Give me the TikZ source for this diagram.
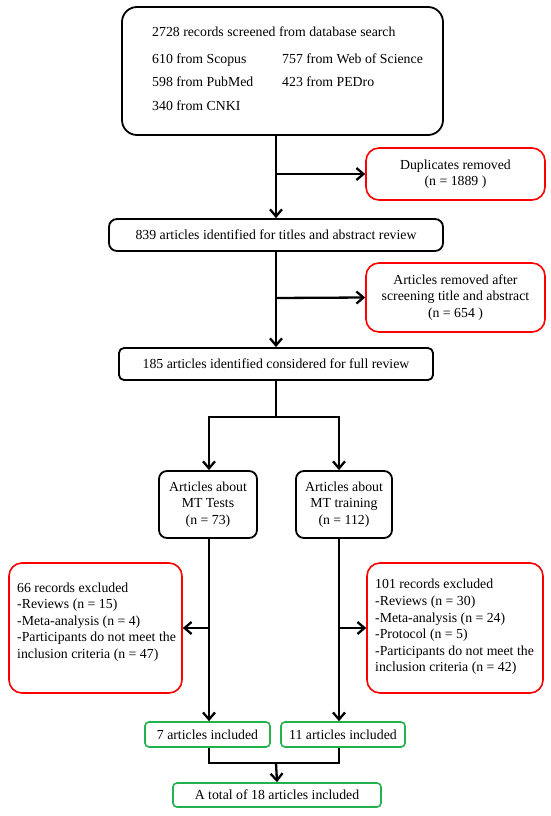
\documentclass[tikz,border=0pt]{standalone}
\usepackage{fontspec}
\setmainfont{Liberation Serif}
\usetikzlibrary{arrows.meta}
\definecolor{redb}{RGB}{255,0,0}
\definecolor{greenb}{RGB}{34,177,76}
\begin{document}
\begin{tikzpicture}[x=1pt,y=-1pt,
 box/.style={draw=black,line width=1.8pt,rounded corners=8pt,inner sep=0pt,align=center,font=\fontsize{13.8}{16.6}\selectfont},
 redbox/.style={draw=redb,line width=1.6pt,rounded corners=13pt,inner sep=0pt,align=center,font=\fontsize{13.8}{16.6}\selectfont},
 grbox/.style={draw=greenb,line width=1.6pt,rounded corners=4pt,inner sep=0pt,align=center,font=\fontsize{13.8}{16.6}\selectfont},
 txt/.style={font=\fontsize{13.8}{16.6}\selectfont,inner sep=0pt,text height=9.5pt,text depth=3pt},
 ltxt/.style={font=\fontsize{13.8}{16.6}\selectfont,inner sep=0pt,align=left},
 conn/.style={line width=2.3pt},
 arr/.style={conn,-{Straight Barb[length=7pt,width=12pt,line width=2.3pt]}}]
\useasboundingbox (0,0) rectangle (550,816);
% top box
\node[box,rounded corners=15pt,minimum width=321pt,minimum height=128pt] (top) at (282.5,71) {};
\node[txt,anchor=west] (t1) at (152,33.5) {2728 records screened from database search};
\node[txt,anchor=west] (t2) at (152,60) {610 from Scopus};
\node[txt,anchor=west] (t3) at (282,60) {757 from Web of Science};
\node[txt,anchor=west] (t4) at (152,83.5) {598 from PubMed};
\node[txt,anchor=west] (t5) at (282,83.5) {423 from PEDro};
\node[txt,anchor=west] (t6) at (152,107) {340 from CNKI};
% red side boxes
\node[redbox,minimum width=179pt,minimum height=52pt] (dup) at (455.5,174) {Duplicates removed\\(n = 1889 )};
\node[redbox,minimum width=179pt,minimum height=69pt] (rem) at (455.5,297.5) {Articles removed after\\screening title and abstract\\(n = 654 )};
% main flow
\node[box,minimum width=334pt,minimum height=32pt] (a839) at (276,235) {839 articles identified for titles and abstract review};
\node[box,rounded corners=5pt,minimum width=314pt,minimum height=32pt] (a185) at (276,364) {185 articles identified considered for full review};
\node[box,minimum width=98pt,minimum height=67pt] (tests) at (208,504.5) {Articles about\\MT Tests\\(n = 73)};
\node[box,minimum width=96pt,minimum height=67pt] (train) at (344,504.5) {Articles about\\MT training\\(n = 112)};
% exclusion boxes
\node[redbox,minimum width=173pt,minimum height=130pt] (exL) at (95.5,628) {};
\node[ltxt,anchor=west] (exLt) at (17,622) {66 records excluded\\-Reviews (n = 15)\\-Meta-analysis (n = 4)\\-Participants do not meet the\\inclusion criteria (n = 47)};
\node[redbox,minimum width=176pt,minimum height=130pt] (exR) at (455,628) {};
\node[ltxt,anchor=west] (exRt) at (375,627) {101 records excluded\\-Reviews (n = 30)\\-Meta-analysis (n = 24)\\-Protocol (n = 5)\\-Participants do not meet the\\inclusion criteria (n = 42)};
% included
\node[grbox,minimum width=125pt,minimum height=25pt] (inc7) at (207.5,734.5) {7 articles included};
\node[grbox,minimum width=124pt,minimum height=25pt] (inc11) at (343,734.5) {11 articles included};
\node[grbox,minimum width=208pt,minimum height=24pt] (total) at (277,795) {A total of 18 articles included};
% coordinates
\coordinate (j1) at (276,174);
\coordinate (j2) at (276,298);
\coordinate (sp) at (276,417);
\coordinate (cL) at (209,417);
\coordinate (cR) at (339,417);
\coordinate (bL) at (209,628);
\coordinate (bR) at (339,628);
\coordinate (mL) at (209,763);
\coordinate (mR) at (339,763);
\coordinate (mC) at (276,763);
% connectors
\draw[arr] (top.south -| a839) -- (a839.north);
\draw[arr] (j1) -- (dup.west);
\draw[arr] (a839.south) -- (a185.north);
\draw[arr] (j2) -- (rem.west);
\draw[conn] (a185.south) -- (sp);
\draw[conn,line cap=rect] (cL) -- (cR);
\draw[arr] (cL) -- (cL |- tests.north);
\draw[arr] (cR) -- (cR |- train.north);
\draw[arr] (tests.south -| cL) -- (cL |- inc7.north);
\draw[arr] (train.south -| cR) -- (cR |- inc11.north);
\draw[arr] (bL) -- (exL.east);
\draw[arr] (bR) -- (exR.west);
\draw[conn,line join=miter] (inc7.south -| cL) -- (mL) -- (mR) -- (inc11.south -| cR);
\draw[arr] (mC) -- (total.north);
\end{tikzpicture}
\end{document}
